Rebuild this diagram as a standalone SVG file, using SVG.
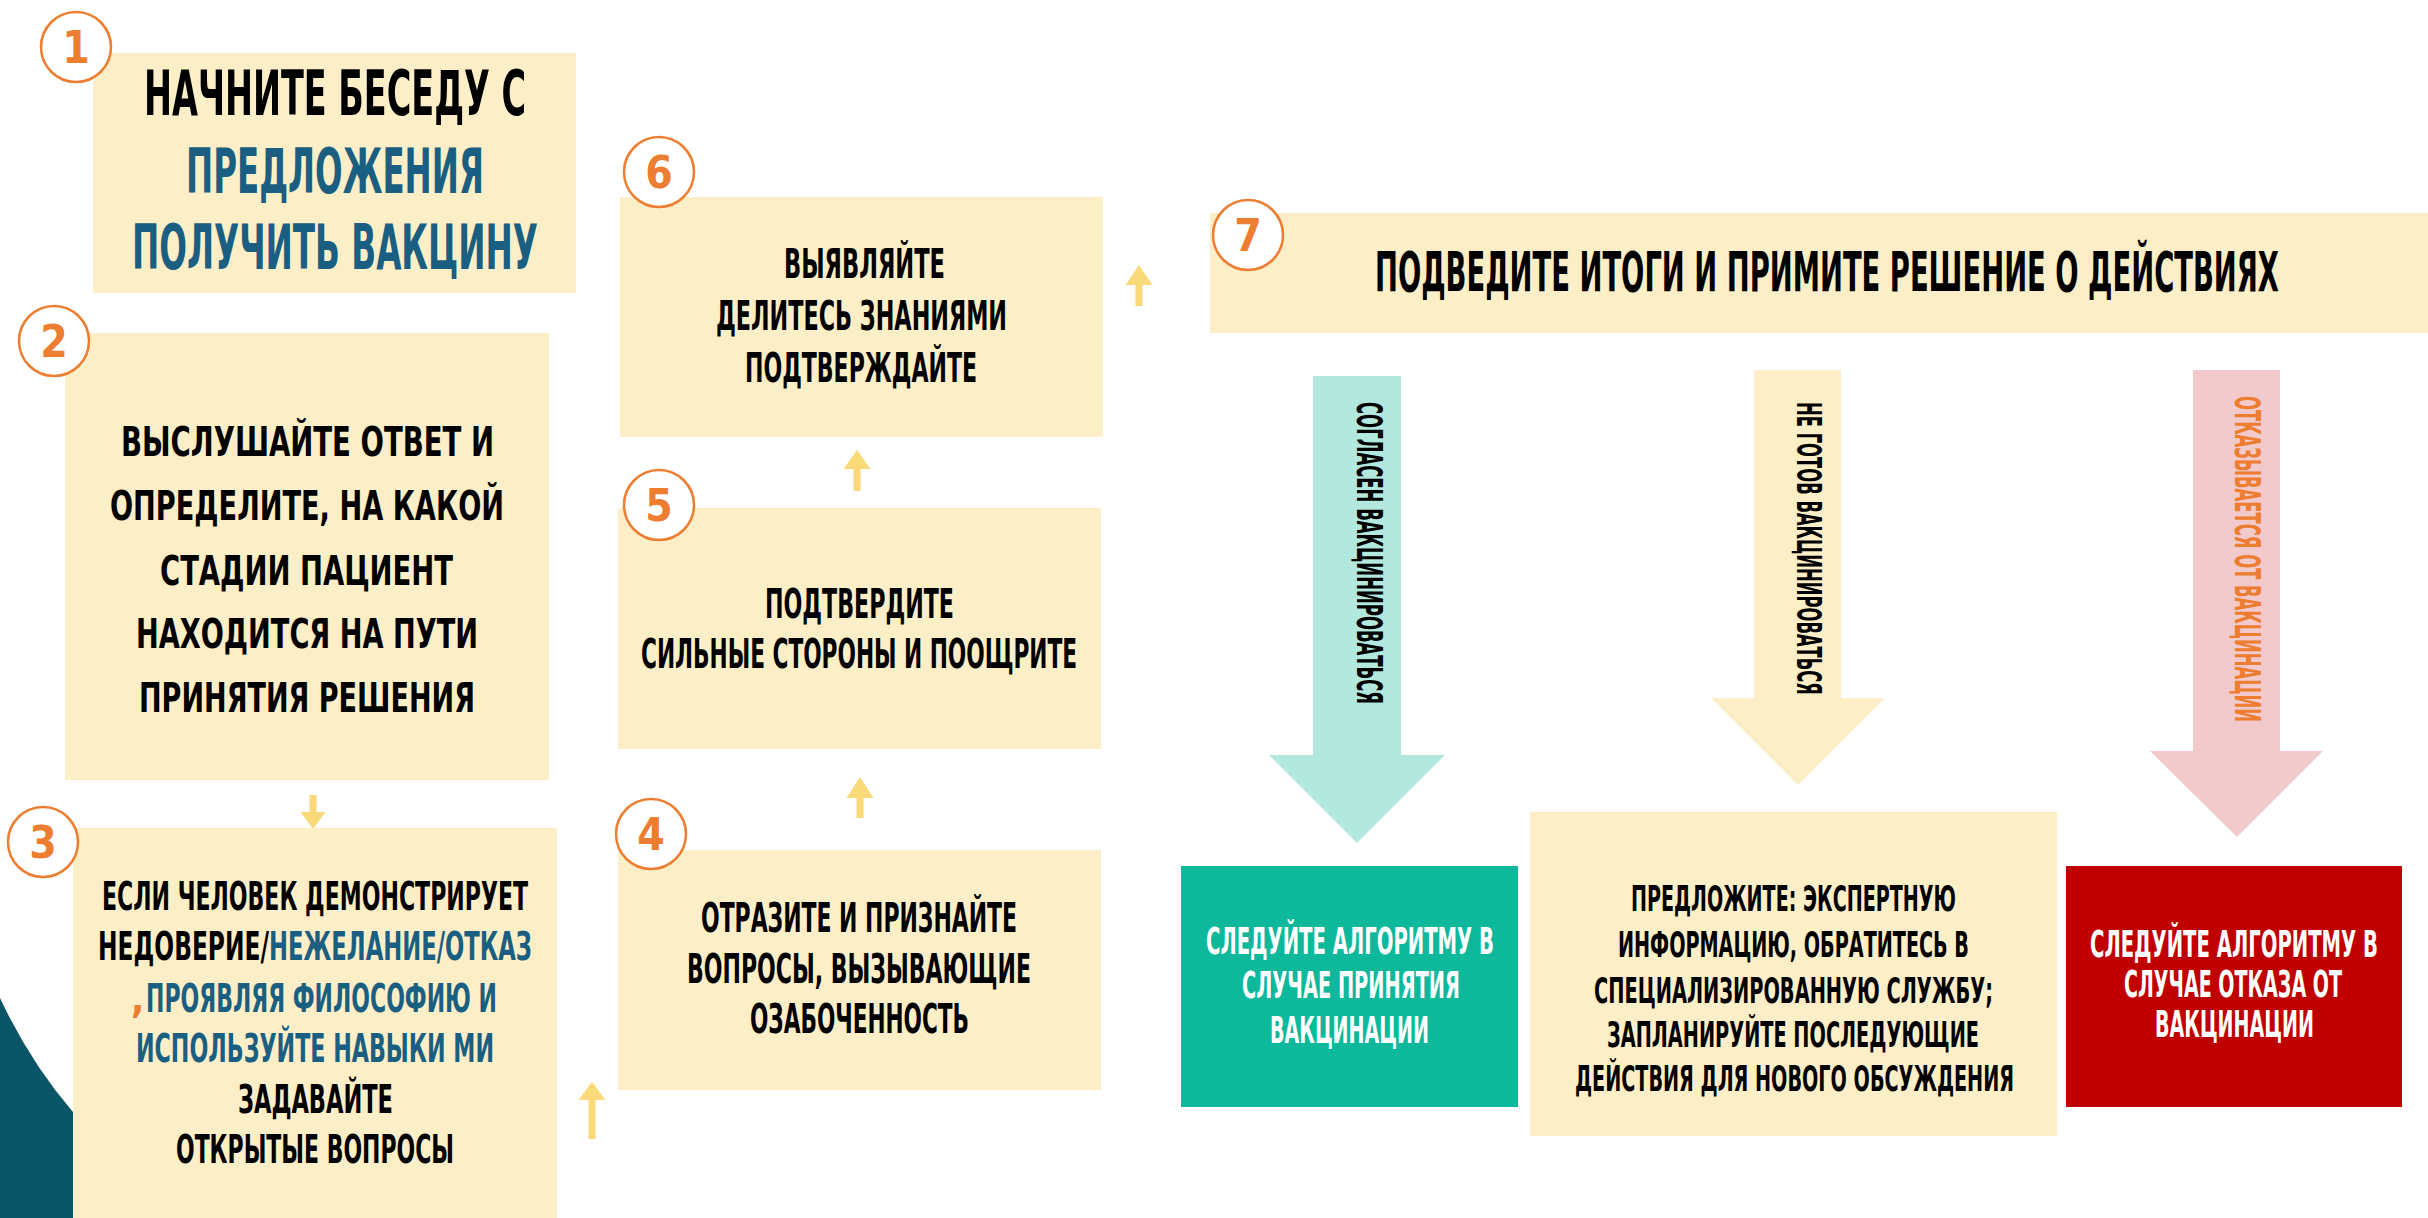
<svg xmlns="http://www.w3.org/2000/svg" width="2428" height="1218" viewBox="0 0 2428 1218">
<style>
.box{fill:#FCEEC7}
.t{font-family:"Liberation Sans Narrow","DejaVu Sans Condensed","Liberation Sans",sans-serif;font-weight:bold}
.k{fill:#000}
.b{fill:#1A5F82}
.w{fill:#FFFFFF}
.o{fill:#ED7D31}
.num{font-family:"Liberation Sans Narrow","DejaVu Sans Condensed","Liberation Sans",sans-serif;font-weight:bold;font-size:44px;fill:#ED7D31;text-anchor:middle}
.circ{fill:#FFFFFF;stroke:#ED7D31;stroke-width:2.5}
.ya{fill:#F9D978}
</style>
<rect width="2428" height="1218" fill="#FFFFFF"/>
<path d="M0,998 Q30,1062 73,1112 L73,1218 L0,1218 Z" fill="#0A5668"/>

<g id="connectors">
  <path class="ya" d="M309.5,795 h7 v17 h9 l-12.5,17 l-12.5,-17 h9 z"/>
  <path class="ya" d="M588.5,1139 h7 v-39 h10 l-13.5,-18 l-13.5,18 h10 z"/>
  <path class="ya" d="M856.5,818 h7 v-20 h10 l-13.5,-21 l-13.5,21 h10 z"/>
  <path class="ya" d="M853.5,491 h7 v-22 h10 l-13.5,-19 l-13.5,19 h10 z"/>
  <path class="ya" d="M1135.5,306 h7 v-21 h10 l-13.5,-20 l-13.5,20 h10 z"/>
  <g id="arrow-agree">
    <path d="M1313,376 H1401 V755 H1445 L1357,843 L1269,755 H1313 Z" fill="#B3E8DE"/>
    <text class="t k" font-size="36" transform="translate(1357,402) rotate(90)" textLength="302" lengthAdjust="spacingAndGlyphs">СОГЛАСЕН ВАКЦИНИРОВАТЬСЯ</text>
  </g>
  <g id="arrow-notready">
    <path d="M1754,370 H1841 V698 H1885 L1798,785 L1711,698 H1754 Z" fill="#FCEEC7"/>
    <text class="t k" font-size="34" transform="translate(1797,402) rotate(90)" textLength="293" lengthAdjust="spacingAndGlyphs">НЕ ГОТОВ ВАКЦИНИРОВАТЬСЯ</text>
  </g>
  <g id="arrow-refuse">
    <path d="M2193,370 H2280 V751 H2323 L2237,837 L2150,751 H2193 Z" fill="#F2CACB"/>
    <text class="t o" font-size="35" transform="translate(2235,396) rotate(90)" textLength="326" lengthAdjust="spacingAndGlyphs">ОТКАЗЫВАЕТСЯ ОТ ВАКЦИНАЦИИ</text>
  </g>
</g>

<g id="node1">
  <rect class="box" x="93" y="53" width="483" height="240"/>
  <circle class="circ" cx="76" cy="47" r="35"/>
  <text class="num" x="76" y="63">1</text>
  <text class="t k" font-size="62" x="144" y="115" textLength="382" lengthAdjust="spacingAndGlyphs">НАЧНИТЕ БЕСЕДУ С</text>
  <text class="t b" font-size="62" x="186" y="193" textLength="298" lengthAdjust="spacingAndGlyphs">ПРЕДЛОЖЕНИЯ</text>
  <text class="t b" font-size="62" x="132" y="269" textLength="406" lengthAdjust="spacingAndGlyphs">ПОЛУЧИТЬ ВАКЦИНУ</text>
</g>

<g id="node2">
  <rect class="box" x="65" y="333" width="484" height="447"/>
  <circle class="circ" cx="54" cy="341" r="35"/>
  <text class="num" x="54" y="357">2</text>
  <text class="t k" font-size="41" x="121" y="456" textLength="373" lengthAdjust="spacingAndGlyphs">ВЫСЛУШАЙТЕ ОТВЕТ И</text>
  <text class="t k" font-size="41" x="110" y="520" textLength="394" lengthAdjust="spacingAndGlyphs">ОПРЕДЕЛИТЕ, НА КАКОЙ</text>
  <text class="t k" font-size="41" x="160" y="585" textLength="293" lengthAdjust="spacingAndGlyphs">СТАДИИ ПАЦИЕНТ</text>
  <text class="t k" font-size="41" x="136" y="648" textLength="342" lengthAdjust="spacingAndGlyphs">НАХОДИТСЯ НА ПУТИ</text>
  <text class="t k" font-size="41" x="139" y="712" textLength="336" lengthAdjust="spacingAndGlyphs">ПРИНЯТИЯ РЕШЕНИЯ</text>
</g>

<g id="node3">
  <rect class="box" x="73" y="828" width="484" height="390"/>
  <circle class="circ" cx="43" cy="842" r="35"/>
  <text class="num" x="43" y="858">3</text>
  <text class="t k" font-size="39" x="102" y="910" textLength="426" lengthAdjust="spacingAndGlyphs">ЕСЛИ ЧЕЛОВЕК ДЕМОНСТРИРУЕТ</text>
  <text class="t k" font-size="39" x="98" y="960" textLength="171" lengthAdjust="spacingAndGlyphs">НЕДОВЕРИЕ/</text>
  <text class="t b" font-size="39" x="269" y="960" textLength="263" lengthAdjust="spacingAndGlyphs">НЕЖЕЛАНИЕ/ОТКАЗ</text>
  <text class="t o" font-size="39" x="131" y="1012">,</text>
  <text class="t b" font-size="39" x="146" y="1012" textLength="351" lengthAdjust="spacingAndGlyphs">ПРОЯВЛЯЯ ФИЛОСОФИЮ И</text>
  <text class="t b" font-size="39" x="136" y="1062" textLength="358" lengthAdjust="spacingAndGlyphs">ИСПОЛЬЗУЙТЕ НАВЫКИ МИ</text>
  <text class="t k" font-size="39" x="238" y="1113" textLength="155" lengthAdjust="spacingAndGlyphs">ЗАДАВАЙТЕ</text>
  <text class="t k" font-size="39" x="176" y="1163" textLength="278" lengthAdjust="spacingAndGlyphs">ОТКРЫТЫЕ ВОПРОСЫ</text>
</g>

<g id="node4">
  <rect class="box" x="618" y="850" width="483" height="240"/>
  <circle class="circ" cx="651" cy="834" r="35"/>
  <text class="num" x="651" y="850">4</text>
  <text class="t k" font-size="41" x="701" y="932" textLength="316" lengthAdjust="spacingAndGlyphs">ОТРАЗИТЕ И ПРИЗНАЙТЕ</text>
  <text class="t k" font-size="41" x="687" y="983" textLength="344" lengthAdjust="spacingAndGlyphs">ВОПРОСЫ, ВЫЗЫВАЮЩИЕ</text>
  <text class="t k" font-size="41" x="750" y="1033" textLength="219" lengthAdjust="spacingAndGlyphs">ОЗАБОЧЕННОСТЬ</text>
</g>

<g id="node5">
  <rect class="box" x="618" y="508" width="483" height="241"/>
  <circle class="circ" cx="659" cy="505" r="35"/>
  <text class="num" x="659" y="521">5</text>
  <text class="t k" font-size="41" x="765" y="618" textLength="189" lengthAdjust="spacingAndGlyphs">ПОДТВЕРДИТЕ</text>
  <text class="t k" font-size="41" x="641" y="668" textLength="436" lengthAdjust="spacingAndGlyphs">СИЛЬНЫЕ СТОРОНЫ И ПООЩРИТЕ</text>
</g>

<g id="node6">
  <rect class="box" x="620" y="197" width="483" height="240"/>
  <circle class="circ" cx="659" cy="172" r="35"/>
  <text class="num" x="659" y="188">6</text>
  <text class="t k" font-size="40" x="784" y="278" textLength="161" lengthAdjust="spacingAndGlyphs">ВЫЯВЛЯЙТЕ</text>
  <text class="t k" font-size="40" x="716" y="330" textLength="291" lengthAdjust="spacingAndGlyphs">ДЕЛИТЕСЬ ЗНАНИЯМИ</text>
  <text class="t k" font-size="40" x="745" y="382" textLength="232" lengthAdjust="spacingAndGlyphs">ПОДТВЕРЖДАЙТЕ</text>
</g>

<g id="node7">
  <rect class="box" x="1210" y="213" width="1218" height="120"/>
  <circle class="circ" cx="1248" cy="235" r="35"/>
  <text class="num" x="1248" y="251">7</text>
  <text class="t k" font-size="55" x="1375" y="291" textLength="904" lengthAdjust="spacingAndGlyphs">ПОДВЕДИТЕ ИТОГИ И ПРИМИТЕ РЕШЕНИЕ О ДЕЙСТВИЯХ</text>
</g>

<g id="node-accept">
  <rect x="1181" y="866" width="337" height="241" fill="#0DB89B"/>
  <text class="t w" font-size="38" x="1206" y="954" textLength="288" lengthAdjust="spacingAndGlyphs">СЛЕДУЙТЕ АЛГОРИТМУ В</text>
  <text class="t w" font-size="38" x="1242" y="998" textLength="218" lengthAdjust="spacingAndGlyphs">СЛУЧАЕ ПРИНЯТИЯ</text>
  <text class="t w" font-size="38" x="1270" y="1043" textLength="159" lengthAdjust="spacingAndGlyphs">ВАКЦИНАЦИИ</text>
</g>

<g id="node-notready">
  <rect class="box" x="1530" y="812" width="527" height="324"/>
  <text class="t k" font-size="36" x="1631" y="911" textLength="325" lengthAdjust="spacingAndGlyphs">ПРЕДЛОЖИТЕ: ЭКСПЕРТНУЮ</text>
  <text class="t k" font-size="36" x="1618" y="957" textLength="351" lengthAdjust="spacingAndGlyphs">ИНФОРМАЦИЮ, ОБРАТИТЕСЬ В</text>
  <text class="t k" font-size="36" x="1594" y="1003" textLength="399" lengthAdjust="spacingAndGlyphs">СПЕЦИАЛИЗИРОВАННУЮ СЛУЖБУ;</text>
  <text class="t k" font-size="36" x="1607" y="1047" textLength="372" lengthAdjust="spacingAndGlyphs">ЗАПЛАНИРУЙТЕ ПОСЛЕДУЮЩИЕ</text>
  <text class="t k" font-size="36" x="1575" y="1091" textLength="439" lengthAdjust="spacingAndGlyphs">ДЕЙСТВИЯ ДЛЯ НОВОГО ОБСУЖДЕНИЯ</text>
</g>

<g id="node-refuse">
  <rect x="2066" y="866" width="336" height="241" fill="#C00000"/>
  <text class="t w" font-size="37" x="2090" y="957" textLength="288" lengthAdjust="spacingAndGlyphs">СЛЕДУЙТЕ АЛГОРИТМУ В</text>
  <text class="t w" font-size="37" x="2124" y="997" textLength="218" lengthAdjust="spacingAndGlyphs">СЛУЧАЕ ОТКАЗА ОТ</text>
  <text class="t w" font-size="37" x="2155" y="1037" textLength="159" lengthAdjust="spacingAndGlyphs">ВАКЦИНАЦИИ</text>
</g>
</svg>
